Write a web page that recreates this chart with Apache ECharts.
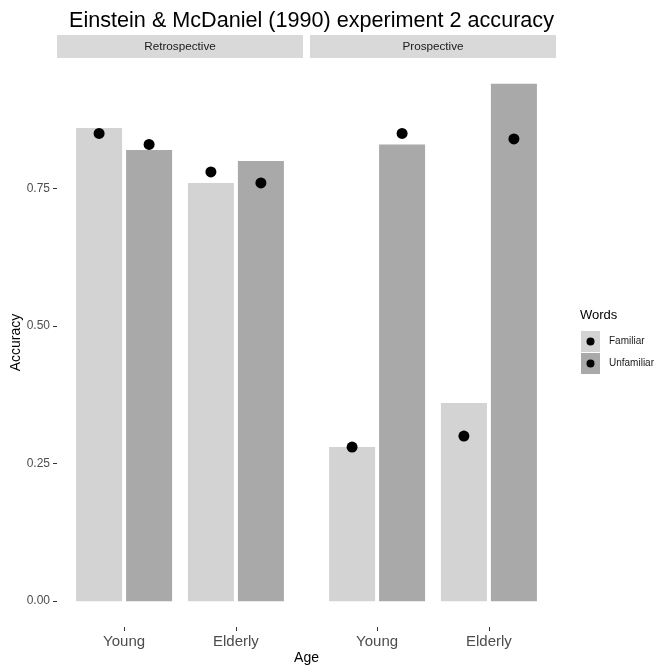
<!DOCTYPE html>
<html>
<head>
<meta charset="utf-8">
<script src="https://cdn.jsdelivr.net/npm/echarts@6/dist/echarts.min.js"></script>
<style>html,body{margin:0;padding:0;background:#fff}#c{width:662px;height:665px}</style>
</head>
<body>
<div id="c"></div>
<script>
const categories = ['Young', 'Elderly'];
const panels = ['Retrospective', 'Prospective'];
const groups = ['Familiar', 'Unfamiliar'];
const yTicks = [0, 0.25, 0.5, 0.75];

const retroFamiliarBar = [0.86, 0.76];
const retroUnfamiliarBar = [0.82, 0.80];
const retroFamiliarPoint = [0.85, 0.78];
const retroUnfamiliarPoint = [0.83, 0.76];

const prospFamiliarBar = [0.28, 0.36];
const prospUnfamiliarBar = [0.83, 0.94];
const prospFamiliarPoint = [0.28, 0.30];
const prospUnfamiliarPoint = [0.85, 0.84];

const FONT = 'Liberation Sans, Arial, Helvetica, sans-serif';
const colors = { Familiar: '#d3d3d3', Unfamiliar: '#a9a9a9' };

const allVals = [].concat(retroFamiliarBar, retroUnfamiliarBar, retroFamiliarPoint, retroUnfamiliarPoint,
  prospFamiliarBar, prospUnfamiliarBar, prospFamiliarPoint, prospUnfamiliarPoint);
const yMax = Math.max.apply(null, allVals);
const yMinLim = -0.05 * yMax;
const yMaxLim = 1.05 * yMax;

// panel geometry (ggplot-like discrete expansion 0.6)
const panelLeft = [57, 310];
const panelW = 246;
const unit = panelW / 2.2;
const gridTop = 58, gridH = 569;
const barW = 46, barGap = '8.7%';

const grids = panelLeft.map(l => ({ left: l + 0.1 * unit, top: gridTop, width: 2 * unit, height: gridH }));

const xAxes = grids.map((g, i) => ({
  type: 'category', gridIndex: i, data: categories,
  axisLine: { show: false, onZero: false },
  axisTick: { show: true, alignWithLabel: true, length: 4, lineStyle: { color: '#333333' } },
  axisLabel: { fontSize: 15, color: '#4d4d4d', fontFamily: FONT, margin: 7 },
  splitLine: { show: false }
}));

const yAxes = grids.map((g, i) => ({
  type: 'value', gridIndex: i, min: yMinLim, max: yMaxLim,
  offset: 0.1 * unit,
  axisLine: { show: false },
  axisTick: { show: i === 0, length: 4, lineStyle: { color: '#333333' }, customValues: yTicks },
  axisLabel: { show: i === 0, fontSize: 12, color: '#4d4d4d', fontFamily: FONT, margin: 7,
    customValues: yTicks, formatter: v => v.toFixed(2) },
  splitLine: { show: false }
}));

const barData = [[retroFamiliarBar, retroUnfamiliarBar], [prospFamiliarBar, prospUnfamiliarBar]];
const pointData = [[retroFamiliarPoint, retroUnfamiliarPoint], [prospFamiliarPoint, prospUnfamiliarPoint]];

const series = [];
[0, 1].forEach(p => {
  groups.forEach((gname, k) => {
    series.push({
      type: 'bar', name: gname, xAxisIndex: p, yAxisIndex: p,
      data: barData[p][k], barWidth: barW, barGap: barGap,
      itemStyle: { color: colors[gname] }, emphasis: { disabled: true }, z: 2
    });
  });
});
[0, 1].forEach(p => {
  groups.forEach((gname, k) => {
    series.push({
      type: 'pictorialBar', name: gname + ' point', xAxisIndex: p, yAxisIndex: p,
      data: pointData[p][k], barWidth: barW, barGap: barGap,
      symbol: 'circle', symbolSize: [11, 11], symbolPosition: 'end', symbolOffset: [0, '-50%'],
      itemStyle: { color: '#000000' }, emphasis: { disabled: true }, z: 5
    });
  });
});

const graphic = [];
panels.forEach((name, i) => {
  graphic.push({ type: 'rect', shape: { x: panelLeft[i], y: 35, width: panelW, height: 23 }, style: { fill: '#d9d9d9' }, silent: true });
  graphic.push({ type: 'text', x: panelLeft[i] + panelW / 2, y: 46.5,
    style: { text: name, fill: '#1a1a1a', font: '11.7px ' + FONT, textAlign: 'center', textVerticalAlign: 'middle' }, silent: true });
});
graphic.push({ type: 'text', x: 306.5, y: 658, style: { text: 'Age', fill: '#000', font: '14px ' + FONT, textAlign: 'center', textVerticalAlign: 'middle' } });
graphic.push({ type: 'text', x: 16, y: 342.5, rotation: Math.PI / 2,
  style: { text: 'Accuracy', fill: '#000', font: '14px ' + FONT, textAlign: 'center', textVerticalAlign: 'middle' } });
graphic.push({ type: 'text', x: 580, y: 315, style: { text: 'Words', fill: '#000', font: '13px ' + FONT, textAlign: 'left', textVerticalAlign: 'middle' } });
graphic.push({ type: 'circle', shape: { cx: 590.5, cy: 341.5, r: 4 }, style: { fill: '#000' }, z: 100 });
graphic.push({ type: 'circle', shape: { cx: 590.5, cy: 363.5, r: 4 }, style: { fill: '#000' }, z: 100 });

const chart = echarts.init(document.getElementById('c'), null, { renderer: 'canvas' });
chart.setOption({
  animation: false,
  backgroundColor: '#ffffff',
  textStyle: { fontFamily: FONT },
  title: { text: 'Einstein & McDaniel (1990) experiment 2 accuracy', left: 306.5, top: 5, textAlign: 'center',
    textStyle: { fontSize: 21.6, fontWeight: 'normal', color: '#000', fontFamily: FONT } },
  legend: {
    data: groups, orient: 'vertical', left: 581, top: 331, icon: 'rect', padding: 0,
    itemWidth: 19, itemHeight: 21, itemGap: 1, selectedMode: false,
    textStyle: { fontSize: 10, color: '#1a1a1a', fontFamily: FONT, padding: [0, 0, 0, 4] }
  },
  grid: grids, xAxis: xAxes, yAxis: yAxes, series: series, graphic: graphic
});
</script>
</body>
</html>
